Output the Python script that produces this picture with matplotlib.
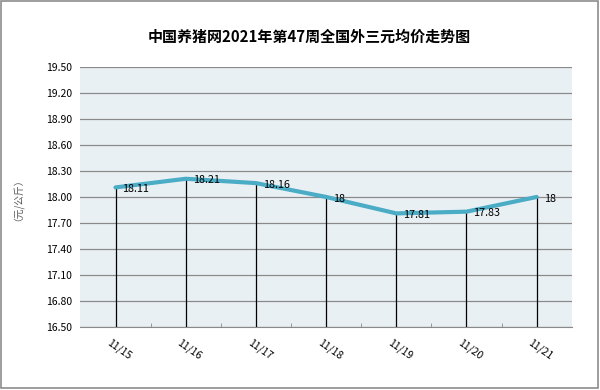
import matplotlib.pyplot as plt
from matplotlib.patches import Rectangle

plt.rcParams['font.family'] = ['Noto Sans CJK SC', 'DejaVu Sans']

dates = ["11/15", "11/16", "11/17", "11/18", "11/19", "11/20", "11/21"]
prices = [18.11, 18.21, 18.16, 18, 17.81, 17.83, 18]
price_labels = ["18.11", "18.21", "18.16", "18", "17.81", "17.83", "18"]
yticks = [16.50, 16.80, 17.10, 17.40, 17.70, 18.00, 18.30, 18.60, 18.90, 19.20, 19.50]

fig = plt.figure(figsize=(6, 3.9), dpi=100)
fig.patches.append(Rectangle((0.002, 0.004), 0.994, 0.993, transform=fig.transFigure,
                             fill=False, edgecolor='#8c8c8c', linewidth=1.2))

ax = fig.add_axes([0.134, 0.162, 0.819, 0.666])
ax.set_facecolor('#e9f0f4')
x = list(range(len(dates)))

for xi, yi in zip(x, prices):
    ax.plot([xi, xi], [16.5, yi], color='black', linewidth=0.9, zorder=2)
ax.plot(x, prices, color='#4bacc6', linewidth=3, solid_capstyle='round', zorder=3)
for xi, yi, lab in zip(x, prices, price_labels):
    ax.text(xi + 0.1, yi - 0.02, lab, fontsize=7.8, va='center', ha='left', zorder=4)

ax.set_xlim(-0.5, len(dates) - 0.5)
ax.set_ylim(16.5, 19.5)
ax.set_yticks(yticks)
ax.set_yticklabels(["%.2f" % v for v in yticks], fontsize=7.5)
ax.yaxis.grid(True, color='#8a8a8a', linewidth=0.9)
ax.set_axisbelow(True)
ax.tick_params(axis='y', length=0, pad=6)

# 日期标签放在刻度稍右下方
for xi, d in zip(x, dates):
    ax.annotate(d, xy=(xi, 0), xycoords=('data', 'axes fraction'),
                xytext=(4, -23), textcoords='offset pixels',
                fontsize=7.5, rotation=-35, ha='center', va='center',
                rotation_mode='anchor')
ax.set_xticks(x)
ax.set_xticklabels([])
ax.set_xticks([i + 0.5 for i in x[:-1]], minor=True)
ax.tick_params(axis='x', which='major', length=0)
ax.tick_params(axis='x', which='minor', direction='in', length=3, color='#8a8a8a')

for s in ['top', 'right', 'left']:
    ax.spines[s].set_visible(False)
ax.spines['bottom'].set_color('#8a8a8a')

fig.text(0.022, 0.5, "（元/公斤）", rotation=90, fontsize=7, color='#555555', va='center', ha='center')
fig.text(0.515, 0.905, "中国养猪网2021年第47周全国外三元均价走势图", fontsize=10.8,
         fontweight='bold', ha='center', va='center')

plt.savefig("out.png", dpi=100)
